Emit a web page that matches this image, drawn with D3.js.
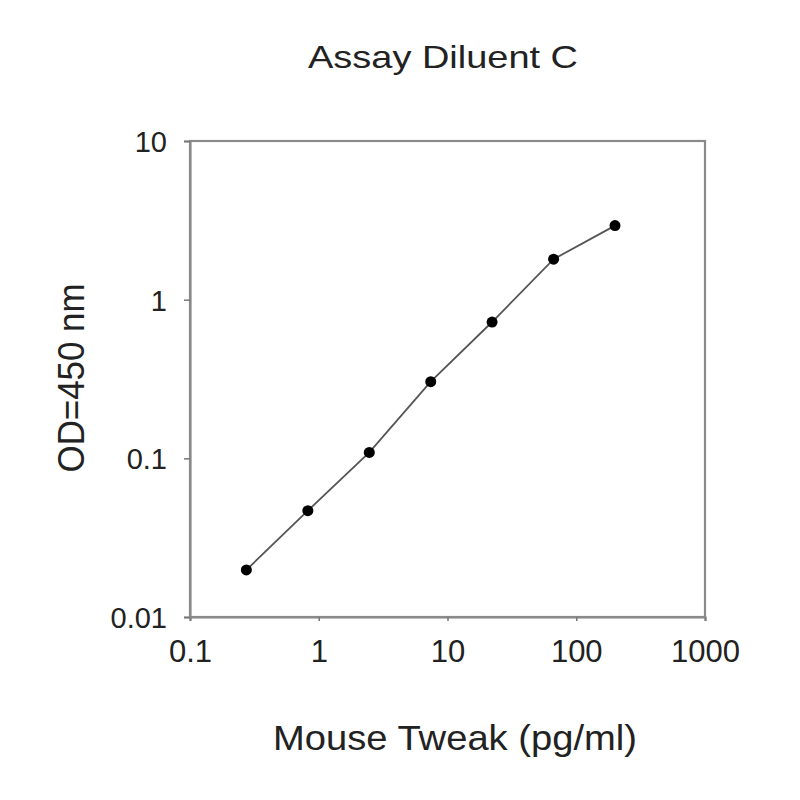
<!DOCTYPE html>
<html>
<head>
<meta charset="utf-8">
<script src="https://cdn.jsdelivr.net/npm/d3@7"></script>
<style>
  body { margin: 0; background: #fff; }
  text { font-family: "Liberation Sans", Arial, sans-serif; fill: #222; }
</style>
</head>
<body>
<div id="chart"></div>
<script>
// standard curve points
const concentrations = [0.274, 0.823, 2.47, 7.41, 22.2, 66.7, 200];
const odValues = [0.0198, 0.0468, 0.109, 0.304, 0.723, 1.80, 2.93];
const xTicks = [0.1, 1, 10, 100, 1000];
const yTicks = [0.01, 0.1, 1, 10];

const svg = d3.select("#chart")
              .append("svg")
              .attr("width", 800)
              .attr("height", 800);

const margin = {top: 141, right: 95, bottom: 183, left: 190};
const width = 800 - margin.left - margin.right;
const height = 800 - margin.top - margin.bottom;

const x = d3.scaleLog()
            .domain([0.1, 1000])
            .range([margin.left, margin.left + width]);

const y = d3.scaleLog()
            .domain([0.01, 10])
            .range([margin.top + height, margin.top]);

// frame
svg.append("rect")
   .attr("x", x(0.1))
   .attr("y", y(10))
   .attr("width", x(1000) - x(0.1))
   .attr("height", y(0.01) - y(10))
   .attr("fill", "none")
   .attr("stroke", "#8a8a8a")
   .attr("stroke-width", 2.2);

const fmt = d => String(d);

const xAxis = svg.append("g")
   .attr("transform", `translate(0,${y(0.01)})`)
   .call(d3.axisBottom(x).tickValues(xTicks).tickFormat(fmt).tickSize(4).tickPadding(19));

const yAxis = svg.append("g")
   .attr("transform", `translate(${x(0.1)},0)`)
   .call(d3.axisLeft(y).tickValues(yTicks).tickFormat(fmt).tickSize(6).tickPadding(17));

[xAxis, yAxis].forEach(g => {
  g.select(".domain").attr("stroke", "#8a8a8a").attr("stroke-width", 2.2);
  g.selectAll(".tick line").attr("stroke", "#777").attr("stroke-width", 1.5);
  g.selectAll(".tick text")
   .style("font-family", "'Liberation Sans', Arial, sans-serif")
   .attr("fill", "#222");
});
xAxis.selectAll(".tick text").style("font-size", "31px");
yAxis.selectAll(".tick text").style("font-size", "29px").attr("dy", "0.36em");

// curve
const line = d3.line()
               .x((d, i) => x(concentrations[i]))
               .y(d => y(d));

svg.append("path")
   .datum(odValues)
   .attr("d", line)
   .attr("fill", "none")
   .attr("stroke", "#555")
   .attr("stroke-width", 1.8);

svg.append("g")
   .selectAll("circle")
   .data(odValues)
   .join("circle")
   .attr("cx", (d, i) => x(concentrations[i]))
   .attr("cy", d => y(d))
   .attr("r", 5.5)
   .attr("fill", "#000");

// titles
svg.append("text")
   .attr("x", 443)
   .attr("y", 68)
   .attr("text-anchor", "middle")
   .attr("textLength", 270)
   .attr("lengthAdjust", "spacingAndGlyphs")
   .style("font-size", "32px")
   .text("Assay Diluent C");

svg.append("text")
   .attr("x", 455)
   .attr("y", 750)
   .attr("text-anchor", "middle")
   .attr("textLength", 364)
   .attr("lengthAdjust", "spacingAndGlyphs")
   .style("font-size", "35px")
   .text("Mouse Tweak (pg/ml)");

svg.append("text")
   .attr("transform", "translate(84,378) rotate(-90)")
   .attr("text-anchor", "middle")
   .attr("textLength", 189)
   .attr("lengthAdjust", "spacingAndGlyphs")
   .style("font-size", "36px")
   .text("OD=450 nm");
</script>
</body>
</html>
